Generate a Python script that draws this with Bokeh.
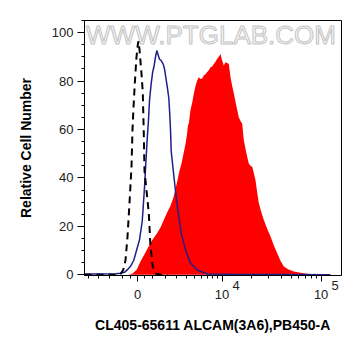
import numpy as np
from bokeh.plotting import figure
from bokeh.models import Range1d, FixedTicker, SingleIntervalTicker, LinearAxis
from bokeh.core.properties import value
from bokeh.embed import file_html
from bokeh.resources import INLINE

# ---- data (x in display units of a biexponential axis: 0 -> 0, 10^4 -> ~0.845) ----
ctrl_x = [-0.53, -0.19, -0.17, -0.143, -0.12, -0.10, -0.08, -0.06, -0.05, -0.04, -0.027, -0.01,
          0.003, 0.01, 0.02, 0.03, 0.042, 0.053, 0.063, 0.07, 0.087, 0.113, 0.13, 0.153, 0.18, 0.23, 0.30]
ctrl_y = [0, 0, 0.3, 2, 6, 15.7, 29.6, 44.6, 60, 69, 79, 90,
          95, 96.5, 93, 88, 82, 75, 58, 43, 36, 25.5, 11.5, 3.3, 0.5, 0, 0]

blue_x = [-0.53, -0.37, -0.22, -0.17, -0.13, -0.103, -0.07, -0.037, -0.01, 0.02, 0.047, 0.057, 0.07,
          0.08, 0.097, 0.11, 0.12, 0.137, 0.153, 0.165, 0.18, 0.193, 0.205, 0.22, 0.235, 0.257, 0.27,
          0.285, 0.30, 0.313, 0.323, 0.33, 0.337, 0.35, 0.363, 0.39, 0.413, 0.437, 0.48, 0.53, 0.597,
          0.697, 0.93, 1.93]
blue_y = [0.3, 0.3, 0.4, 0.6, 1, 2, 3.5, 6, 10, 14.4, 22, 28, 36,
          44, 56, 64, 72, 79, 84, 86, 90, 92.6, 91, 89, 88.5, 87, 85,
          81, 77, 73, 66, 60, 51, 46, 41, 31, 24, 17.3, 10.3, 4.8, 2,
          0.3, 0.2, 0]

red_x = [-0.09, -0.05, -0.01, 0.03, 0.07, 0.11, 0.15, 0.197, 0.23, 0.263, 0.30, 0.33, 0.36, 0.38,
         0.40, 0.42, 0.44, 0.46, 0.48, 0.495, 0.505, 0.513, 0.53, 0.547, 0.563, 0.58, 0.597, 0.613,
         0.63, 0.647, 0.663, 0.68, 0.697, 0.713, 0.73, 0.747, 0.763, 0.78, 0.797, 0.813, 0.83, 0.847,
         0.863, 0.88, 0.897, 0.913, 0.93, 0.947, 0.963, 0.98, 0.997, 1.013, 1.03, 1.047, 1.063, 1.08,
         1.097, 1.113, 1.13, 1.147, 1.163, 1.18, 1.197, 1.213, 1.237, 1.263, 1.297, 1.33, 1.363,
         1.397, 1.43, 1.463, 1.51, 1.563, 1.63, 1.697, 1.78, 1.88]
red_y = [0, 0.5, 2, 5.5, 8.5, 11.6, 14.5, 17.3, 19.5, 22.6, 26, 28.5, 32, 35.5,
         39, 43, 46, 50, 54, 58, 61.7, 62.5, 68, 71, 74.8, 78, 80.2, 81.6,
         80.8, 81, 82.3, 82.8, 83.7, 84.5, 85.7, 86, 87, 88, 89.2, 90, 91.2, 88.5,
         86.4, 87.8, 87.5, 87, 81.6, 78, 75, 71.5, 68, 65, 63.5, 62.4, 55.5, 52,
         48.7, 46, 45, 44.6, 42, 39, 34, 29.6, 26, 22.6, 19, 15.8, 12.2,
         8.9, 5.8, 3.4, 2.2, 1.4, 0.8, 0.4, 0.2, 0]

major_vals = [0, 1e4, 1e5]
major_text = ["0", "10", "10"]
sup_vals = [1e4, 1e5]
sup_text = ["4", "5"]
minor_vals = [-4000, -3000, -2000, -1000, -500, 500, 1000, 2000, 3000, 4000, 5000, 6000, 7000,
              8000, 9000, 20000, 30000, 40000, 50000, 60000, 70000, 80000, 90000]

W = 2917.0
def pos(v):
    return float(np.arcsinh(np.asarray(v, dtype=float) / W) / np.log(10))

FONT = "Liberation Sans"
SUP_SHIFT = 0.14  # exponent sits to the right of its "10"

p = figure(width=345, height=340, output_backend="svg", toolbar_location=None,
           x_range=Range1d(-0.53, 2.04), y_range=Range1d(-0.3, 105),
           min_border_left=84, min_border_right=4, min_border_top=20, min_border_bottom=65,
           x_axis_type=None)
p.background_fill_color = "white"
p.border_fill_color = "white"
p.outline_line_color = "black"
p.outline_line_width = 1
p.xgrid.visible = False
p.ygrid.visible = False

# watermark
p.text(x=[0.735], y=[99.2], text=["WWW.PTGLAB.COM"], text_font=value(FONT),
       text_font_size="26px", text_align="center", text_baseline="middle",
       text_color="#f7f7f7", text_outline_color="#c4c4c4")

p.varea(x=red_x, y1=0, y2=red_y, fill_color="#ff0000")
p.line(blue_x, blue_y, line_color="#1f1f8a", line_width=1.5)
p.line(ctrl_x, ctrl_y, line_color="black", line_width=2, line_dash="7 5")

# main x axis: ticks and "0", "10", "10"
mt = [pos(v) for v in major_vals]
main_axis = LinearAxis(ticker=FixedTicker(ticks=mt, minor_ticks=[pos(v) for v in minor_vals]),
                       major_label_overrides={t: s for t, s in zip(mt, major_text)})
p.add_layout(main_axis, "below")

# exponent axis (labels only), pulled up next to the "10"s
st = [pos(v) + SUP_SHIFT for v in sup_vals]
sup_axis = LinearAxis(ticker=FixedTicker(ticks=st, minor_ticks=[]),
                      major_label_overrides={t: s for t, s in zip(st, sup_text)})
sup_axis.axis_line_color = None
sup_axis.major_tick_line_color = None
sup_axis.minor_tick_line_color = None
sup_axis.major_tick_out = 0
sup_axis.major_tick_in = 0
sup_axis.major_label_standoff = -21
p.add_layout(sup_axis, "below")

p.yaxis.ticker = SingleIntervalTicker(interval=20, num_minor_ticks=4)

for ax in (main_axis, sup_axis, p.yaxis[0]):
    ax.major_label_text_font = FONT
    ax.major_label_text_font_size = "13px"
    ax.major_label_text_color = "#222222"
    ax.axis_label_text_font = FONT
    ax.axis_label_text_font_style = "bold"
    ax.axis_label_text_font_size = "14px"
    ax.axis_label_text_color = "black"

for ax in (main_axis, p.yaxis[0]):
    ax.axis_line_color = "black"
    ax.major_tick_line_color = "black"
    ax.minor_tick_line_color = "black"
    ax.major_tick_in = 0
    ax.minor_tick_in = 0
    ax.minor_tick_out = 3

main_axis.major_tick_out = 6
p.yaxis.major_tick_out = 7
main_axis.major_label_standoff = 8
p.yaxis.major_label_standoff = 4
sup_axis.axis_label = "CL405-65611 ALCAM(3A6),PB450-A"
sup_axis.axis_label_standoff = 24
p.yaxis.axis_label = "Relative Cell Number"
p.yaxis.axis_label_standoff = 15

open("out.html", "w").write(file_html(p, INLINE))
